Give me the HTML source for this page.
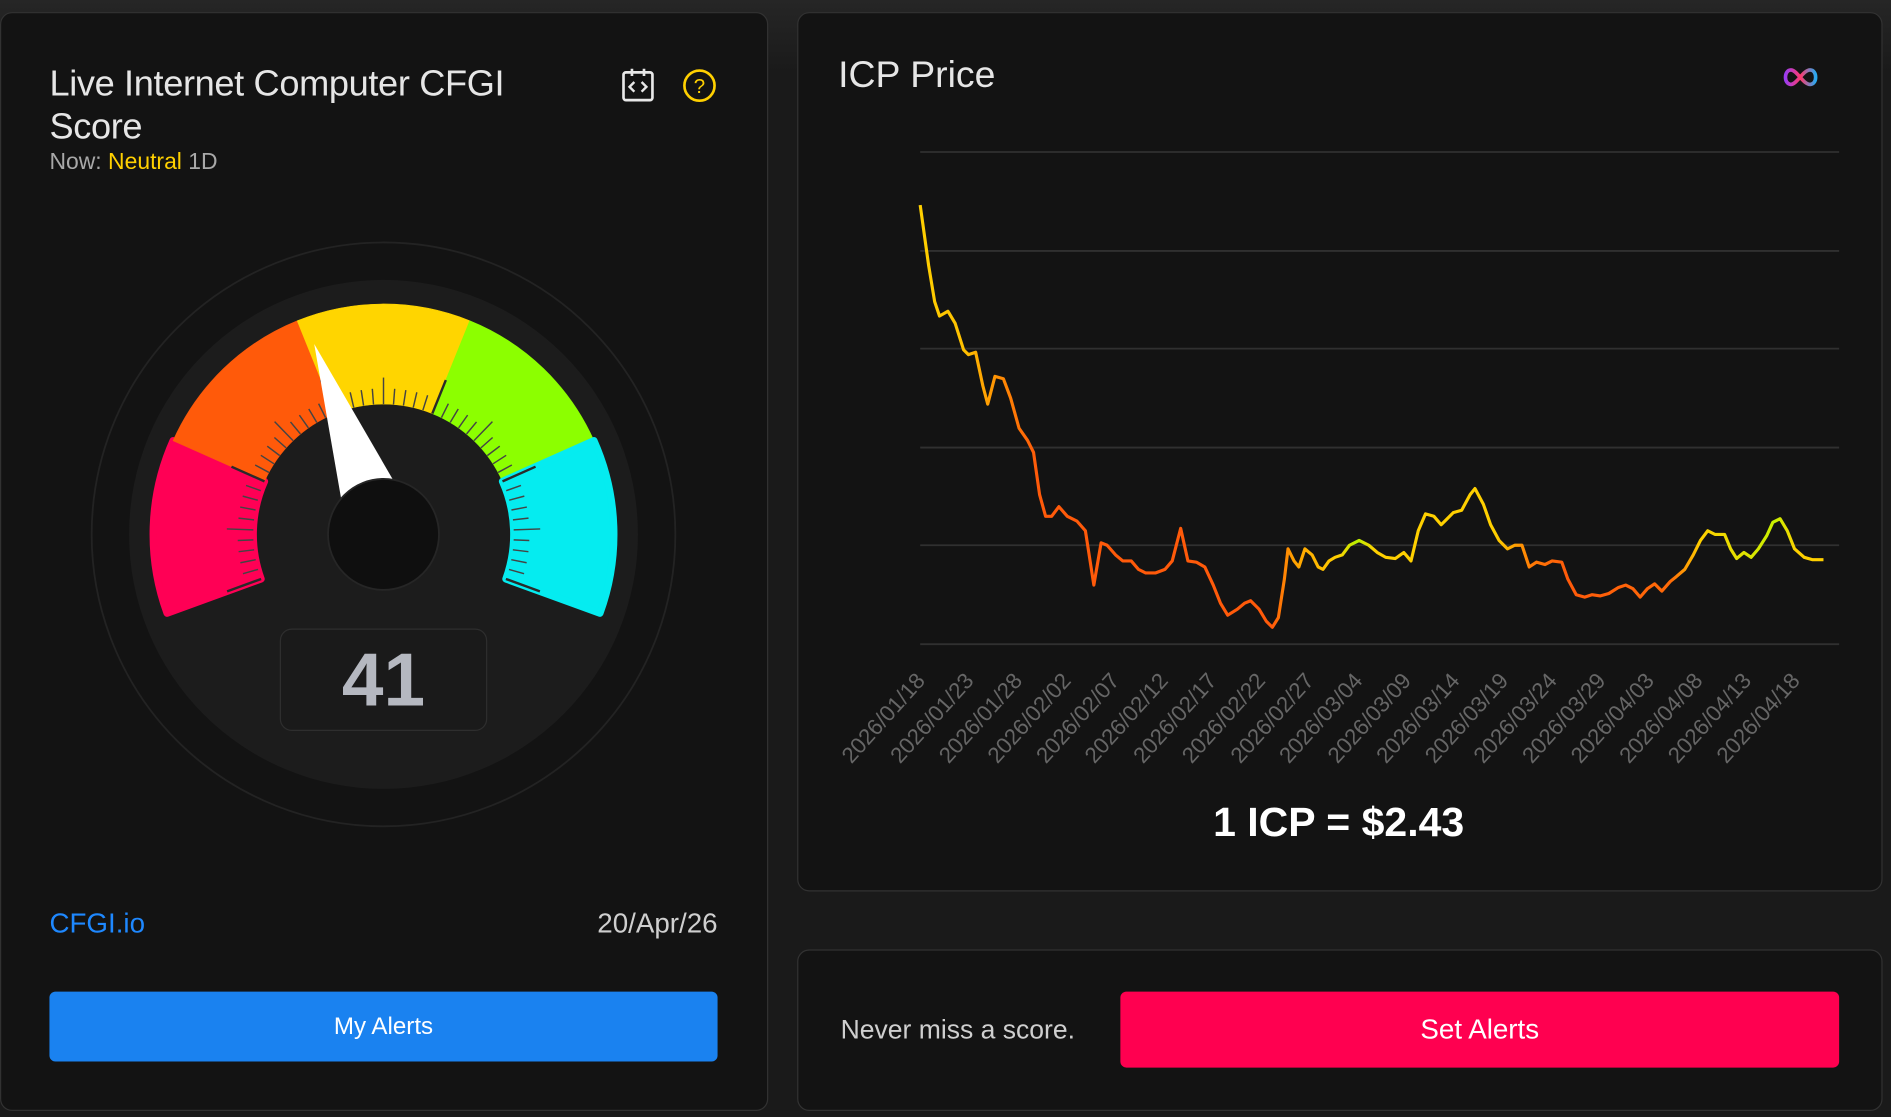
<!DOCTYPE html>
<html><head><meta charset="utf-8"><style>
html,body{margin:0;padding:0;background:#1c1c1c;overflow:hidden}
#w{width:1568px;height:926px;transform:scale(1.2060,1.2063);transform-origin:0 0;position:relative;background:linear-gradient(180deg,#262626 0,#1a1a1a 60px,#1a1a1a 100%);font-family:"Liberation Sans",sans-serif}
.card{position:absolute;background:#131313;border:1.5px solid #323232;border-radius:10px;box-sizing:border-box}
.t{position:absolute;white-space:nowrap}
.btn{position:absolute;border-radius:5px;color:#fff;text-align:center}
</style></head><body><div id="w">
<div class="card" style="left:0;top:10px;width:637px;height:911px"></div>
<div class="card" style="left:661px;top:10px;width:900px;height:729px"></div>
<div class="card" style="left:661px;top:787px;width:900px;height:134px"></div>

<div class="t" style="left:41px;top:52px;font-size:30px;letter-spacing:-0.3px;color:#e6e6e6;line-height:36px">Live Internet Computer CFGI<br>Score</div>
<div class="t" style="left:41px;top:124px;font-size:19px;color:#a8a8a8">Now: <span style="color:#ffd000">Neutral</span> 1D</div>
<svg style="position:absolute;left:514px;top:55px" width="82" height="32">
<rect x="3" y="5" width="24" height="23" rx="2" fill="none" stroke="#e8e8e8" stroke-width="2.2"/>
<line x1="10" y1="2" x2="10" y2="8" stroke="#e8e8e8" stroke-width="2.2"/><line x1="20" y1="2" x2="20" y2="8" stroke="#e8e8e8" stroke-width="2.2"/>
<path d="M12 13 l-4 4 4 4 M18 13 l4 4 -4 4" fill="none" stroke="#e8e8e8" stroke-width="2"/>
<circle cx="66" cy="16" r="12.5" fill="none" stroke="#ffd000" stroke-width="2.2"/>
<text x="66" y="22" font-size="17" fill="#ffd000" text-anchor="middle" font-family="Liberation Sans">?</text>
</svg>

<svg id="g" style="position:absolute;left:0;top:0" width="637" height="700"></svg>
<div class="t" style="left:232px;top:521px;width:172px;height:85px;border:1.5px solid #2e2e2e;border-radius:10px;background:#1a1a1a;box-sizing:border-box;text-align:center;font-size:62px;font-weight:bold;color:#b5b8c0;line-height:85px">41</div>

<div class="t" style="left:41px;top:752px;font-size:23px;color:#1e88ff">CFGI.io</div>
<div class="t" style="right:973px;top:752px;font-size:23px;color:#cfcfcf">20/Apr/26</div>
<div class="btn" style="left:41px;top:822px;width:554px;height:58px;background:#1a82f0;font-size:20px;line-height:58px">My Alerts</div>

<div class="t" style="left:695px;top:44px;font-size:31px;color:#e6e6e6">ICP Price</div>
<svg style="position:absolute;left:1476px;top:54px" width="34" height="20"><defs><linearGradient id="inf" x1="0" x2="1"><stop offset="0" stop-color="#9b3cf0"/><stop offset=".5" stop-color="#ff3a6e"/><stop offset="1" stop-color="#29a9f0"/></linearGradient></defs><path d="M9 4 C3 4 3 16 9 16 C14 16 19 4 25 4 C31 4 31 16 25 16 C19 16 14 4 9 4Z" fill="none" stroke="url(#inf)" stroke-width="3"/></svg>

<svg id="c" style="position:absolute;left:0;top:0" width="1568" height="740"></svg>
<div class="t" style="left:1000px;top:663px;width:220px;text-align:center;font-size:34px;font-weight:bold;color:#fff">1 ICP = $2.43</div>

<div class="t" style="left:697px;top:841px;font-size:22px;color:#cfcfcf">Never miss a score.</div>
<div class="btn" style="left:929px;top:822px;width:596px;height:63px;background:#ff0050;font-size:23px;line-height:63px">Set Alerts</div>
</div>
<script>
var NS="http://www.w3.org/2000/svg";
function el(p,t,a){var e=document.createElementNS(NS,t);for(var k in a)e.setAttribute(k,a[k]);p.appendChild(e);return e;}
var g=document.getElementById('g'),cx=318,cy=443;
function P(r,d){var a=d*Math.PI/180;return [cx+r*Math.sin(a),cy-r*Math.cos(a)];}
el(g,'circle',{cx:cx,cy:cy,r:242,fill:'#131313',stroke:'#232323','stroke-width':1.5});
el(g,'circle',{cx:cx,cy:cy,r:211,fill:'#1c1c1c'});
var cols=['#ff0055','#ff5a0a','#ffd500','#8cff00','#05ecf0'],s=-110,span=220,R=191,r=108;
for(var i=0;i<5;i++){var a0=s+i*span/5,a1=a0+span/5,p1=P(R,a0),p2=P(R,a1),p3=P(r,a1),p4=P(r,a0);
el(g,'path',{d:'M'+p1+' A'+R+' '+R+' 0 0 1 '+p2+' L'+p3+' A'+r+' '+r+' 0 0 0 '+p4+'Z',fill:cols[i],stroke:cols[i],'stroke-width':(i==0||i==4)?6:0.5,'stroke-linejoin':'round'});}
for(var k=0;k<=50;k++){var d=s+k*span/50,maj=k%10==0,mid=k%5==0;var a=P(r,d),b=P(r+(maj?30:mid?22:13),d);
el(g,'line',{x1:a[0],y1:a[1],x2:b[0],y2:b[1],stroke:maj?'#2a2a2a':'#444','stroke-width':maj?2:1.2});}
var na=-20,tip=P(168,na),b1=P(30,na-90),b2=P(30,na+90);
el(g,'path',{d:'M'+tip+' L'+b1+' L'+b2+'Z',fill:'#fff'});
el(g,'circle',{cx:cx,cy:cy,r:46,fill:'#0f0f0f',stroke:'#262626','stroke-width':1.5});

var c=document.getElementById('c');
var gr=[126,208,289,371,452,534];gr.forEach(function(y){el(c,'line',{x1:763,x2:1525,y1:y,y2:y,stroke:'#303030','stroke-width':1.5});});
var pts=[[763,170],[770,220],[775,250],[779,262],[786,258],[792,268],[799,290],[803,294],[809,292],[815,320],[819,335],[825,312],[832,314],[838,330],[845,355],[852,365],[857,375],[862,410],[867,428],[872,428],[878,420],[885,428],[893,432],[900,440],[907,485],[913,450],[918,452],[925,460],[931,465],[938,465],[944,472],[950,475],[958,475],[966,472],[972,465],[979,438],[985,465],[992,466],[999,470],[1006,485],[1012,500],[1018,510],[1026,505],[1032,500],[1037,498],[1044,505],[1050,515],[1055,520],[1060,512],[1065,480],[1068,455],[1073,465],[1077,470],[1082,455],[1088,460],[1093,470],[1097,472],[1102,465],[1107,462],[1113,460],[1119,452],[1127,448],[1135,452],[1142,458],[1149,462],[1157,463],[1164,458],[1170,465],[1176,440],[1182,426],[1189,428],[1195,435],[1200,430],[1205,425],[1212,423],[1219,410],[1223,405],[1230,418],[1236,435],[1243,448],[1250,455],[1256,452],[1262,452],[1268,470],[1274,466],[1281,468],[1287,465],[1295,466],[1300,480],[1307,493],[1314,495],[1320,493],[1327,494],[1334,492],[1342,487],[1348,485],[1354,488],[1360,495],[1366,488],[1372,484],[1378,490],[1385,482],[1390,478],[1397,472],[1404,460],[1410,448],[1416,440],[1422,443],[1430,443],[1435,455],[1440,463],[1446,458],[1452,462],[1458,455],[1465,444],[1470,433],[1476,430],[1482,440],[1488,455],[1496,462],[1503,464],[1512,464]];
var defs=el(c,'defs',{}),lg=el(defs,'linearGradient',{id:'lg',gradientUnits:'userSpaceOnUse',x1:763,x2:1512,y1:0,y2:0});
[[763,'#ffd000'],[800,'#ffc000'],[840,'#ff7a05'],[860,'#ff5a0a'],[1055,'#ff5a0a'],[1072,'#ffa000'],[1110,'#ffd000'],[1125,'#b8f000'],[1140,'#ffd000'],[1240,'#ffd000'],[1270,'#ff7a05'],[1300,'#ff5a0a'],[1385,'#ff6a08'],[1410,'#ffd000'],[1472,'#c8f000'],[1490,'#ffd000'],[1512,'#ffd000']].forEach(function(s){el(lg,'stop',{offset:((s[0]-763)/749).toFixed(4),'stop-color':s[1]});});
el(c,'polyline',{points:pts.join(' '),fill:'none',stroke:'url(#lg)','stroke-width':2.6,'stroke-linejoin':'round'});
var lab=['01/18','01/23','01/28','02/02','02/07','02/12','02/17','02/22','02/27','03/04','03/09','03/14','03/19','03/24','03/29','04/03','04/08','04/13','04/18'];
for(var i=0;i<19;i++){var x=768+i*40.3,y=565;var t=el(c,'text',{x:x,y:y,'text-anchor':'end','font-size':18.5,fill:'#666','font-family':'Liberation Sans',transform:'rotate(-48 '+x+' '+y+')'});t.textContent='2026/'+lab[i];}
</script>
</body></html>
